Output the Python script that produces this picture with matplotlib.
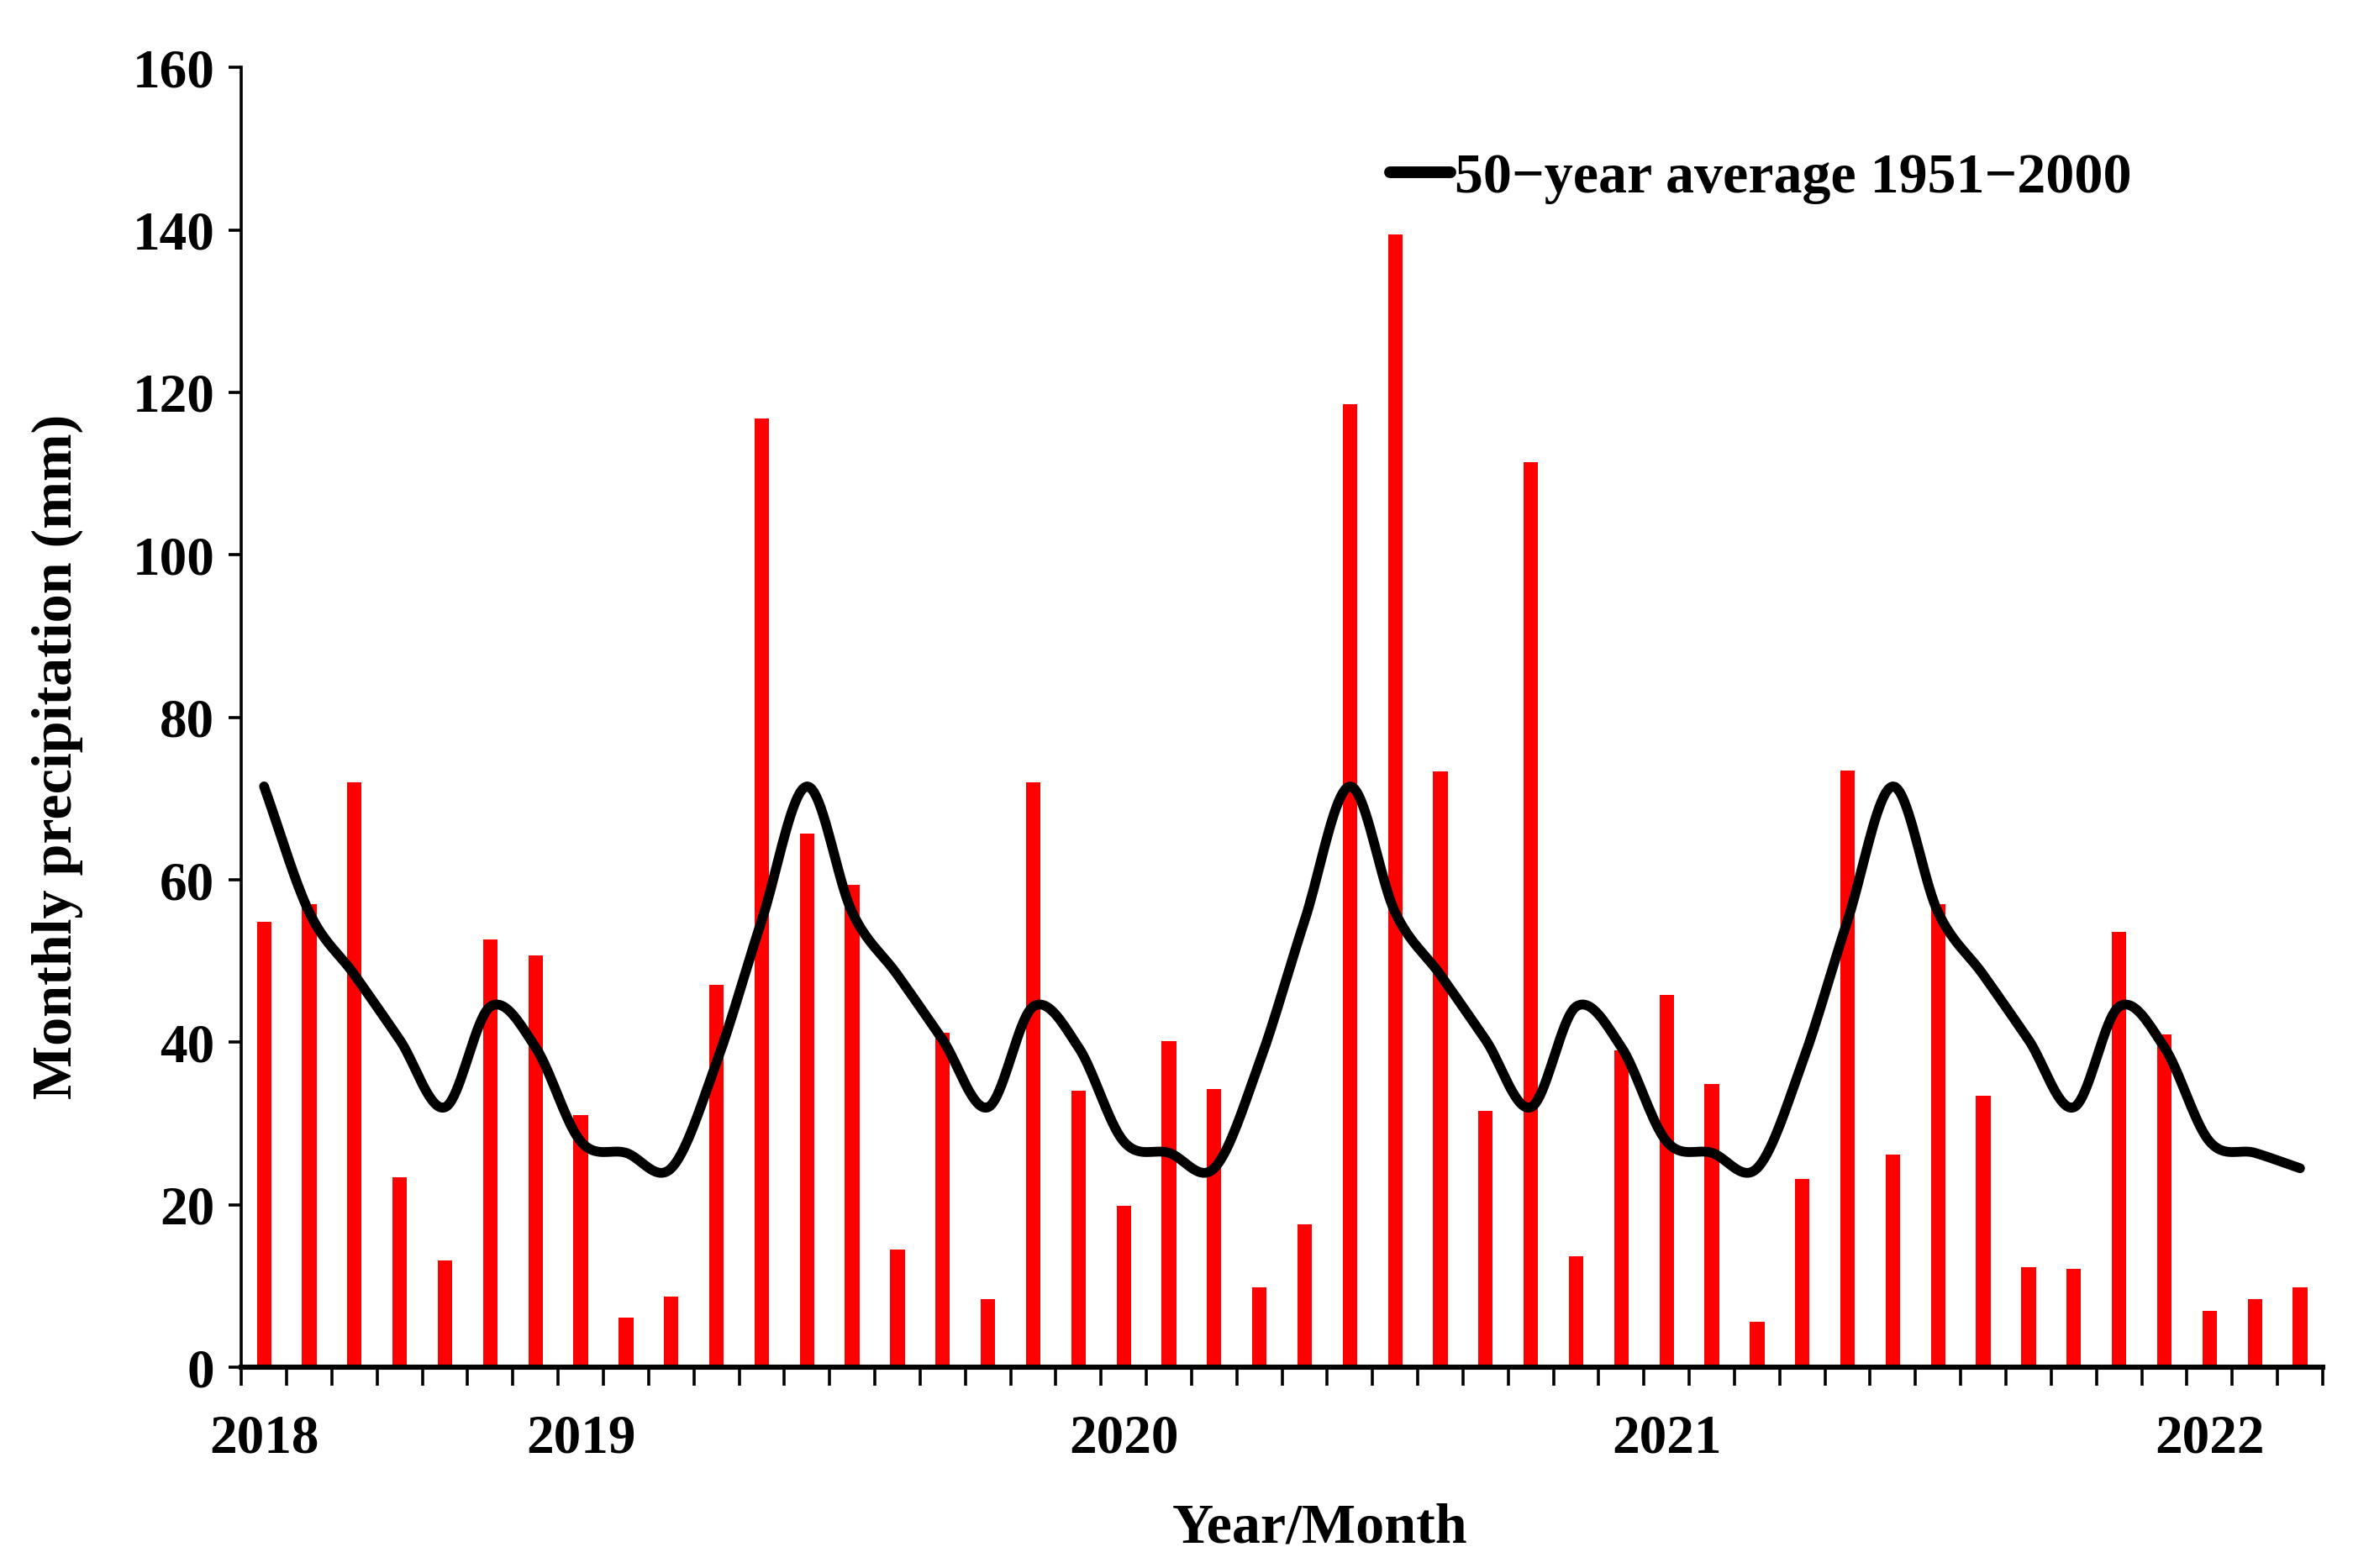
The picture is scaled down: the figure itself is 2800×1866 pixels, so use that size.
import numpy as np
import matplotlib
matplotlib.use('Agg')
import matplotlib.pyplot as plt

plt.rcParams['font.family'] = ['Liberation Serif', 'DejaVu Serif']
plt.rcParams['font.weight'] = 'bold'

# monthly precipitation, June 2018 - March 2022 (mm)
precip = [54.8, 57.0, 72.0, 23.4, 13.2, 52.7, 50.7,
          31.0, 6.1, 8.7, 47.1, 116.8, 65.7, 59.4, 14.5, 41.2, 8.4, 72.0, 34.0,
          19.9, 40.1, 34.3, 9.8, 17.6, 118.6, 139.4, 73.3, 31.6, 111.4, 13.7, 39.0,
          45.8, 34.9, 5.6, 23.2, 73.5, 26.2, 57.0, 33.4, 12.3, 12.1, 53.6, 41.0,
          6.9, 8.4, 9.8]

# 1951-2000 monthly mean, Jan..Dec
clim = [27.8, 26.4, 24.5, 37.5, 55.0, 71.5, 56.0, 48.3, 40.3, 32.0, 44.4, 39.4]
start_month = 6  # June 2018
avg = [clim[(start_month - 1 + i) % 12] for i in range(len(precip))]

year_labels = ['2018', '2019', '2020', '2021', '2022']
year_pos = [0, 7, 19, 31, 43]


def smooth(y, n=20):
    # catmull-rom spline through the points (like a smoothed line in excel)
    y = np.asarray(y, float)
    p = np.concatenate([[2 * y[0] - y[1]], y, [2 * y[-1] - y[-2]]])
    xs, ys = [], []
    t = np.linspace(0, 1, n, endpoint=False)
    for i in range(1, len(p) - 2):
        p0, p1, p2, p3 = p[i - 1], p[i], p[i + 1], p[i + 2]
        v = 0.5 * ((2 * p1) + (-p0 + p2) * t + (2 * p0 - 5 * p1 + 4 * p2 - p3) * t ** 2
                   + (-p0 + 3 * p1 - 3 * p2 + p3) * t ** 3)
        xs.append(i - 1 + t)
        ys.append(v)
    xs.append([len(y) - 1])
    ys.append([y[-1]])
    return np.concatenate(xs), np.concatenate(ys)


x = np.arange(len(precip))
fig = plt.figure(figsize=(14, 9.33), dpi=200)
ax = fig.add_axes([0.1026, 0.128, 0.8845, 0.829])

ax.bar(x, precip, width=0.32, color='#ff0000', zorder=2)
sx, sy = smooth(avg)
ax.plot(sx, sy, color='black', lw=4.2, zorder=3, solid_capstyle='round',
        label='50\u2212year average 1951\u22122000')

ax.set_xlim(-0.5, len(precip) - 0.5)
ax.set_ylim(0, 160)
ax.set_yticks(np.arange(0, 161, 20))
ax.set_xticks(np.arange(-0.5, len(precip), 1.0))
ax.set_xticklabels([])
ax.set_xticks(year_pos, minor=True)
ax.set_xticklabels(year_labels, minor=True)
ax.tick_params(axis='x', which='major', direction='out', length=8, width=1.3)
ax.tick_params(axis='x', which='minor', length=0, pad=20, labelsize=23.5)
ax.tick_params(axis='y', direction='out', length=5.5, width=1.3, labelsize=23.5, pad=6)

for s in ['top', 'right']:
    ax.spines[s].set_visible(False)
ax.spines['left'].set_linewidth(1.3)
ax.spines['bottom'].set_linewidth(2.2)

ax.set_xlabel('Year/Month', fontsize=24.5, fontweight='bold')
ax.set_ylabel('Monthly precipitation (mm)', fontsize=24.5, fontweight='bold')
ax.xaxis.set_label_coords(0.518, -0.104)
ax.yaxis.set_label_coords(-0.076, 0.47)

ax.legend(loc='center left', bbox_to_anchor=(0.552, 0.915), frameon=False,
          fontsize=24.5, handlelength=1.05, handletextpad=0.08, borderpad=0,
          borderaxespad=0)
ax.get_legend().get_lines()[0].set_linewidth(5)

fig.savefig('out.png', dpi=200)
